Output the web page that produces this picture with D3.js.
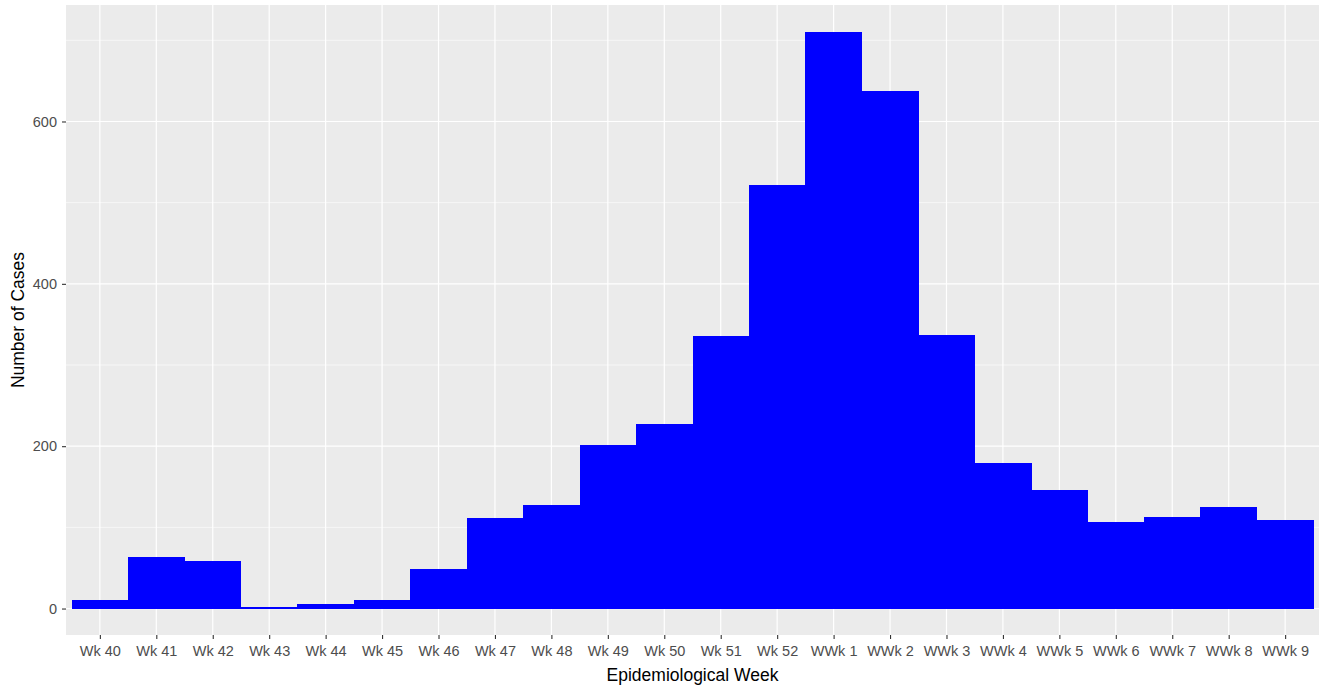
<!DOCTYPE html>
<html>
<head>
<meta charset="utf-8">
<script src="https://cdn.jsdelivr.net/npm/d3@7"></script>
<style>
  body { margin: 0; background: #fff; }
  text { font-family: "Liberation Sans", Arial, sans-serif; }
</style>
</head>
<body>
<svg id="chart" width="1325" height="687"></svg>
<script>
const weeks = ["Wk 40", "Wk 41", "Wk 42", "Wk 43", "Wk 44", "Wk 45", "Wk 46", "Wk 47", "Wk 48", "Wk 49", "Wk 50",
    "Wk 51", "Wk 52", "WWk 1", "WWk 2", "WWk 3", "WWk 4", "WWk 5", "WWk 6", "WWk 7", "WWk 8", "WWk 9"]
const cases = [10, 64, 58, 2, 5, 10, 49, 112, 128, 201, 227, 336, 522, 710, 637, 337, 179, 146, 107, 113, 125, 109]
const yMajor = [0, 200, 400, 600]
const yMinor = [100, 300, 500, 700]

function drawChart() {
    let svg = d3.select("#chart")
    let left = 66, right = 1319, top = 5, bottom = 635

    // discrete axis: positions 1..n, expanded by 0.6 on each side like ggplot
    let n = weeks.length
    let scX = d3.scaleLinear().domain([0.4, n + 0.6]).range([left, right])
    let scY = d3.scaleLinear().domain([-32.6, 743.5]).range([bottom, top])

    svg.append("rect")
        .attr("x", left).attr("y", top)
        .attr("width", right - left).attr("height", bottom - top)
        .attr("fill", "#ebebeb")

    let grid = svg.append("g").attr("stroke", "#fff").attr("fill", "none")
    grid.selectAll(".minor").data(yMinor).enter()
        .append("line")
        .attr("x1", left).attr("x2", right)
        .attr("y1", d => scY(d)).attr("y2", d => scY(d))
        .attr("stroke-width", 0.6)
    grid.selectAll(".major").data(yMajor).enter()
        .append("line")
        .attr("x1", left).attr("x2", right)
        .attr("y1", d => scY(d)).attr("y2", d => scY(d))
        .attr("stroke-width", 1.2)
    grid.selectAll(".vx").data(weeks).enter()
        .append("line")
        .attr("x1", (d, i) => scX(i + 1)).attr("x2", (d, i) => scX(i + 1))
        .attr("y1", top).attr("y2", bottom)
        .attr("stroke-width", 1.2)

    svg.append("g").selectAll("rect").data(cases).enter()
        .append("rect")
        .attr("x", (d, i) => scX(i + 0.5))
        .attr("width", scX(1) - scX(0) + 0.5)
        .attr("y", d => scY(d))
        .attr("height", d => scY(0) - scY(d))
        .attr("fill", "#0000ff")
        .attr("shape-rendering", "crispEdges")

    // axes
    let xAxis = d3.axisBottom(scX)
        .tickValues(d3.range(1, n + 1))
        .tickFormat(d => weeks[d - 1])
        .tickSize(4).tickPadding(7)
    let gx = svg.append("g").attr("transform", `translate(0,${bottom})`).call(xAxis)
    let yAxis = d3.axisLeft(scY).tickValues(yMajor).tickSize(4).tickPadding(5)
    let gy = svg.append("g").attr("transform", `translate(${left},0)`).call(yAxis)

    for (let g of [gx, gy]) {
        g.select(".domain").remove()
        g.selectAll(".tick line").attr("stroke", "#333").attr("stroke-width", 1.1)
        g.selectAll(".tick text")
            .attr("fill", "#4d4d4d")
            .style("font-size", "14.5px")
            .style("font-family", "'Liberation Sans', Arial, sans-serif")
    }

    svg.append("text")
        .attr("x", (left + right) / 2).attr("y", 681)
        .attr("text-anchor", "middle")
        .style("font-size", "17.5px")
        .text("Epidemiological Week")

    svg.append("text")
        .attr("transform", `translate(24,${(top + bottom) / 2}) rotate(-90)`)
        .attr("text-anchor", "middle")
        .style("font-size", "17.5px")
        .text("Number of Cases")
}

drawChart()
</script>
</body>
</html>
